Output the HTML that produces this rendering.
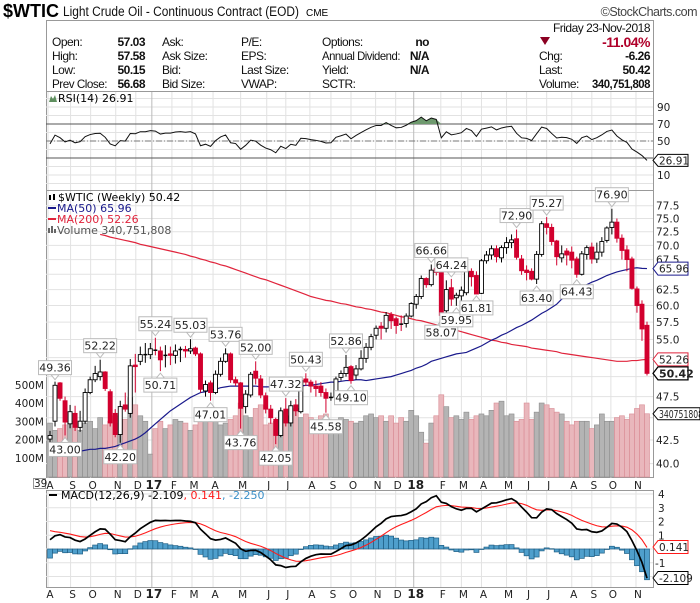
<!DOCTYPE html>
<html><head><meta charset="utf-8"><style>
body{margin:0;background:#fff;width:700px;height:603px;overflow:hidden}
svg{display:block;font-family:"Liberation Sans",sans-serif}
.hd{font-family:"Liberation Sans Narrow","Liberation Sans",sans-serif;font-size:12px;letter-spacing:-0.5px;fill:#111}
.hb{font-weight:bold}
.ax{font-family:"DejaVu Sans",sans-serif;font-size:10.5px;fill:#222}
.lg{font-family:"DejaVu Sans",sans-serif;font-size:11px}
</style></head><body>
<svg id="chart" width="700" height="603" viewBox="0 0 700 603">
<g>
<text x="3" y="17" textLength="56" lengthAdjust="spacingAndGlyphs" style="font-family:'Liberation Sans',sans-serif;font-size:18px;font-weight:bold">$WTIC</text>
<text x="63" y="16" textLength="236" lengthAdjust="spacingAndGlyphs" style="font-family:'Liberation Sans',sans-serif;font-size:13.5px;fill:#111">Light Crude Oil - Continuous Contract (EOD)</text>
<text x="306" y="16" style="font-size:10px">CME</text>
<text x="697" y="16" text-anchor="end" class="hd" style="font-size:12.5px;fill:#444">©StockCharts.com</text>
</g>
<g>
<rect x="46.5" y="20.5" width="607" height="71" fill="#fff" stroke="#999"/>
<text x="650" y="32" text-anchor="end" class="hd">Friday  23-Nov-2018</text>
<text x="52" y="46" class="hd">Open:</text><text x="145" y="46" text-anchor="end" class="hd hb">57.03</text>
<text x="52" y="60" class="hd">High:</text><text x="145" y="60" text-anchor="end" class="hd hb">57.58</text>
<text x="52" y="74" class="hd">Low:</text><text x="145" y="74" text-anchor="end" class="hd hb">50.15</text>
<text x="52" y="88" class="hd" textLength="55" lengthAdjust="spacingAndGlyphs">Prev Close:</text><text x="145" y="88" text-anchor="end" class="hd hb">56.68</text>
<text x="162" y="46" class="hd">Ask:</text>
<text x="162" y="60" class="hd">Ask Size:</text>
<text x="162" y="74" class="hd">Bid:</text>
<text x="162" y="88" class="hd">Bid Size:</text>
<text x="241" y="46" class="hd">P/E:</text>
<text x="241" y="60" class="hd">EPS:</text>
<text x="241" y="74" class="hd">Last Size:</text>
<text x="241" y="88" class="hd">VWAP:</text>
<text x="322" y="46" class="hd">Options:</text><text x="429" y="46" text-anchor="end" class="hd hb">no</text>
<text x="322" y="60" class="hd" textLength="78" lengthAdjust="spacingAndGlyphs">Annual Dividend:</text><text x="429" y="60" text-anchor="end" class="hd hb">N/A</text>
<text x="322" y="74" class="hd">Yield:</text><text x="429" y="74" text-anchor="end" class="hd hb">N/A</text>
<text x="322" y="88" class="hd">SCTR:</text>
<polygon points="540,37 550,37 545,45" fill="#8b0022"/>
<text x="650" y="47" text-anchor="end" class="hd hb" style="fill:#b0002a;font-size:14px">-11.04%</text>
<text x="539" y="60" class="hd">Chg:</text><text x="650" y="60" text-anchor="end" class="hd hb">-6.26</text>
<text x="539" y="74" class="hd">Last:</text><text x="650" y="74" text-anchor="end" class="hd hb">50.42</text>
<text x="539" y="88" class="hd">Volume:</text><text x="650" y="88" text-anchor="end" class="hd hb" textLength="58" lengthAdjust="spacingAndGlyphs">340,751,808</text>
</g>
<g id="rsi"></g>
<g id="main"></g>
<g id="macd"></g>
</svg>
<script>
// ---------- data (weekly, Aug 2016 - Nov 23 2018) ----------
const opens=[42.6,44.6,49.2,47.0,44.3,45.5,43.9,44.6,48.0,49.6,50.0,50.6,48.1,45.5,43.1,46.5,45.5,51.5,52.0,52.8,52.9,53.6,53.4,52.7,53.0,52.8,53.5,53.6,53.4,53.8,53.0,48.2,49.2,48.0,50.3,52.0,53.0,49.6,49.2,46.3,47.7,50.7,49.7,47.6,46.0,44.8,43.0,46.0,44.4,46.5,45.7,49.7,49.3,48.8,48.8,48.0,47.3,47.4,49.9,50.4,51.3,50.2,51.0,52.4,53.9,55.6,56.9,56.6,58.6,58.0,57.3,57.3,58.4,60.2,61.4,64.3,63.3,66.0,65.3,59.2,62.8,61.2,61.5,62.0,65.5,64.8,61.9,67.3,68.3,69.4,67.8,69.6,70.5,71.2,67.6,65.7,65.5,64.2,68.4,74.0,73.3,70.8,67.8,69.0,68.8,67.6,65.0,68.4,69.7,67.6,68.8,70.9,73.3,74.3,71.3,69.2,67.6,62.6,60.2,57.03];
const highs=[43.5,49.36,49.3,47.5,46.5,46.4,45.8,48.5,50.0,51.4,52.22,50.7,48.4,46.0,47.0,48.0,52.3,53.0,54.0,54.5,54.5,55.24,54.0,54.2,54.0,54.3,54.0,54.1,55.03,54.0,53.2,49.5,49.5,50.8,52.5,53.76,53.2,50.0,49.3,48.3,50.6,52.0,50.2,48.0,46.5,45.0,46.2,47.32,47.0,47.2,50.0,50.43,49.6,49.5,49.3,48.5,48.0,50.0,50.8,52.86,51.5,51.5,53.5,54.5,55.8,57.0,57.5,59.0,59.0,58.3,58.5,58.8,60.5,61.8,64.8,64.5,66.66,66.3,66.0,64.0,64.24,62.0,63.0,66.2,66.0,65.5,67.6,69.0,70.0,70.0,70.0,71.5,72.0,72.9,68.3,66.5,66.0,69.0,74.5,75.27,74.0,71.0,70.0,69.5,69.8,68.0,69.0,70.0,70.5,70.5,71.5,73.5,76.9,75.0,72.0,70.0,68.0,63.0,60.8,57.58];
const lows=[41.5,44.0,47.0,43.0,43.8,43.5,43.4,44.3,47.8,49.3,49.5,48.2,44.0,42.8,42.2,45.7,45.0,48.0,51.5,51.8,52.3,52.8,50.71,51.2,51.5,51.7,51.9,52.5,53.0,52.7,48.0,47.5,47.01,47.8,50.0,51.8,49.2,48.8,43.76,45.5,47.4,49.0,47.3,45.5,44.3,42.05,42.8,44.0,44.0,45.2,45.5,48.8,48.0,47.5,47.5,45.58,47.0,46.8,49.5,50.0,49.1,49.6,50.8,51.8,53.5,55.0,55.0,56.0,56.5,55.8,56.2,56.7,58.2,59.5,61.0,62.8,63.0,64.8,58.07,58.5,59.95,59.95,60.5,61.6,63.0,61.81,61.8,66.8,67.5,67.0,67.0,68.5,69.5,67.5,64.9,64.0,64.0,63.4,68.0,72.0,70.0,66.5,67.0,66.5,66.0,64.43,64.8,67.5,66.8,66.9,68.0,70.5,72.0,70.5,67.5,65.5,62.5,58.9,54.8,50.15];
const closes=[43.0,48.9,47.3,44.5,45.7,43.9,44.6,48.0,49.6,50.4,50.6,48.5,44.4,43.1,46.3,46.0,51.4,51.3,52.9,52.9,53.7,53.5,52.2,52.8,52.8,53.4,53.6,53.4,53.7,53.0,48.4,49.0,48.0,50.3,52.0,53.0,49.6,49.2,46.1,47.8,50.3,49.8,47.7,46.0,45.0,43.0,45.8,44.4,46.4,45.8,49.5,49.3,48.8,48.5,48.0,47.3,47.4,49.7,50.4,51.2,49.5,51.0,52.4,53.9,55.4,56.6,56.6,58.5,57.7,57.0,57.2,58.4,60.3,61.4,64.3,63.3,65.7,65.3,58.5,62.5,61.0,61.6,62.4,65.5,64.6,61.8,67.3,68.3,69.4,68.0,69.6,70.5,71.0,67.9,65.6,65.3,64.2,68.4,74.0,73.3,70.7,68.0,68.5,68.3,67.4,65.0,68.5,69.6,67.6,68.8,70.7,73.2,74.3,71.3,69.1,67.5,62.7,60.0,56.5,50.42];
const volumes=[290,250,260,280,300,270,250,290,300,260,320,280,300,330,290,310,430,390,330,300,120,260,300,260,280,310,300,290,250,280,330,320,300,300,280,290,310,330,400,330,320,370,390,280,290,300,350,290,330,370,320,340,320,300,330,340,300,300,320,310,300,290,300,330,340,320,330,300,330,290,320,300,360,330,240,180,290,330,445,380,320,330,310,350,310,330,340,330,360,400,410,330,340,300,310,400,310,350,400,390,370,350,340,300,280,300,300,300,260,280,340,300,300,320,330,310,340,370,390,341];
const ma50=[41.3,41.3,41.2,41.2,41.2,41.2,41.3,41.4,41.5,41.5,41.6,41.6,41.7,41.8,42.0,42.2,42.4,42.6,42.9,43.3,43.8,44.3,44.8,45.3,45.8,46.2,46.6,47.0,47.4,47.7,48.0,48.1,48.3,48.4,48.6,48.7,48.8,48.8,48.8,48.8,48.8,48.8,48.7,48.7,48.7,48.7,48.7,48.7,48.8,48.8,48.8,48.9,48.9,49.0,49.1,49.2,49.3,49.3,49.4,49.5,49.5,49.6,49.6,49.5,49.6,49.7,49.8,49.9,50.0,50.2,50.4,50.6,50.8,51.1,51.3,51.6,52.0,52.2,52.4,52.6,52.8,53.0,53.1,53.2,53.5,53.8,54.1,54.5,54.9,55.2,55.6,55.9,56.3,56.7,57.0,57.4,57.8,58.3,58.8,59.2,59.7,60.2,61.0,61.4,61.9,62.4,62.9,63.3,63.7,64.0,64.4,64.8,65.1,65.4,65.6,65.8,66.0,66.1,66.0,65.96];
const ma200=[null,null,null,null,null,null,null,null,null,null,72.0,71.8,71.5,71.3,71.1,70.9,70.7,70.5,70.2,70.0,69.8,69.6,69.4,69.2,69.0,68.8,68.6,68.4,68.1,67.9,67.6,67.4,67.1,66.9,66.6,66.4,66.1,65.8,65.5,65.2,64.9,64.6,64.3,64.1,63.8,63.5,63.2,62.9,62.6,62.3,62.0,61.7,61.4,61.2,61.0,60.8,60.7,60.5,60.3,60.2,60.0,59.8,59.7,59.5,59.4,59.2,59.0,58.9,58.7,58.5,58.3,58.2,58.0,57.8,57.7,57.5,57.3,57.1,56.9,56.7,56.5,56.3,56.1,55.9,55.7,55.5,55.3,55.1,54.9,54.8,54.6,54.5,54.3,54.2,54.1,54.0,53.8,53.7,53.6,53.5,53.4,53.3,53.1,53.0,52.9,52.8,52.7,52.6,52.5,52.4,52.3,52.2,52.1,52.0,52.0,52.0,52.1,52.1,52.2,52.26];
const highLabels=[[1,"49.36"],[10,"52.22"],[21,"55.24"],[28,"55.03"],[35,"53.76"],[41,"52.00"],[47,"47.32"],[51,"50.43"],[59,"52.86"],[76,"66.66"],[80,"64.24"],[93,"72.90"],[99,"75.27"],[112,"76.90"]];
const lowLabels=[[3,"43.00"],[14,"42.20"],[22,"50.71"],[32,"47.01"],[38,"43.76"],[45,"42.05"],[55,"45.58"],[60,"49.10"],[78,"58.07"],[81,"59.95"],[85,"61.81"],[97,"63.40"],[105,"64.43"]];
const priceTicks=[40,42.5,45,47.5,50,52.5,55,57.5,60,62.5,65,67.5,70,72.5,75,77.5];
const volTicks=[100,200,300,400,500];
const rsiTicks=[10,30,50,70,90];
const macdTicks=[-2,-1,1,2,3,4];
const monthLabels=["A","S","O","N","D","17","F","M","A","M","J","J","A","S","O","N","D","18","F","M","A","M","J","J","A","S","O","N"];
const monthWeek=[0,4.5,8.5,13.5,17.5,20.7,24.7,28.7,32.9,38.4,43.6,47.4,52.2,56.4,60.4,65.3,69.3,72.9,78.3,82.4,86.4,91.4,95.4,99.4,104.4,108.4,112.2,117.2];
const rsiSeed={prev:43.5,gain:0.95,loss:1.05};
const macdSeed={e12:45.0,e26:44.1,sig:1.5};

// ---------- helpers ----------
const NS="http://www.w3.org/2000/svg";
function mk(parent,tag,attrs){const e=document.createElementNS(NS,tag);for(const k in attrs)e.setAttribute(k,attrs[k]);parent.appendChild(e);return e;}
const X0=46,X1=653,N=closes.length;
const xW=i=>50+i*(597/(N-1));
const yP=p=>205.7+390*Math.log(77.5/p);
const yV=v=>476-v*0.1825;
const yR=r=>183.5-0.85*r;
const yM=m=>549-13.75*m;

// ---------- RSI ----------
const rsiG=document.getElementById('rsi');
mk(rsiG,'rect',{x:X0+.5,y:91.5,width:X1-X0,height:99,fill:'#fff',stroke:'#999'});
for(let r=0;r<=100;r+=10){const l=mk(rsiG,'line',{x1:X0,x2:X1,y1:yR(r),y2:yR(r),stroke:'#e2e2e2'});}
monthWeek.forEach((w,k)=>{const l=mk(rsiG,'line',{x1:xW(w)-2,x2:xW(w)-2,y1:92,y2:190,stroke:monthLabels[k].length>1?'#bbb':'#e2e2e2'});});
[30,70].forEach(r=>{const l=mk(rsiG,'line',{x1:X0,x2:X1,y1:yR(r),y2:yR(r),stroke:'#555'});});
{const l=mk(rsiG,'line',{x1:X0,x2:X1,y1:yR(50),y2:yR(50),stroke:'#777','stroke-dasharray':'6,2,1,2'});}
const rsi=[];{let ag=rsiSeed.gain,al=rsiSeed.loss,prev=rsiSeed.prev;closes.forEach(c=>{const ch=c-prev;prev=c;ag=(ag*13+Math.max(ch,0))/14;al=(al*13+Math.max(-ch,0))/14;rsi.push(100-100/(1+ag/al));});}
{const pts=[];for(let i=0;i<N;i++)pts.push([xW(i),yR(Math.max(rsi[i],70))]);
const a=mk(rsiG,'path',{d:'M'+xW(0)+','+yR(70)+'L'+pts.map(p=>p.join(',')).join('L')+'L'+xW(N-1)+','+yR(70)+'Z',fill:'#6e9a6e'});}
{const l=mk(rsiG,'polyline',{points:rsi.map((r,i)=>xW(i)+','+yR(r)).join(' '),fill:'none',stroke:'#111','stroke-width':1});}
rsiTicks.forEach(r=>{if(r===30)return;const t=mk(rsiG,'text',{x:657,y:yR(r)+4,class:'ax'});t.textContent=r;});
{const g=mk(rsiG,'g',{});const y=yR(rsi[N-1]);mk(g,'polygon',{points:`653,${y} 658,${y-6} 688,${y-6} 688,${y+6} 658,${y+6}`,fill:'#fff',stroke:'#000'});const t=mk(g,'text',{x:659,y:y+4,class:'ax'});t.textContent='26.91';}
{const g=mk(rsiG,'g',{});mk(g,'polygon',{points:'49,102 51,96 53,99 55,95 57,102',fill:'#5f8f5f'});const t=mk(g,'text',{x:58,y:102,class:'lg'});t.textContent='RSI(14) 26.91';}

// ---------- MAIN ----------
const mg=document.getElementById('main');
mk(mg,'rect',{x:X0+.5,y:190.5,width:X1-X0,height:287,fill:'#fff',stroke:'#999'});
priceTicks.forEach(p=>{const l=mk(mg,'line',{x1:X0,x2:X1,y1:yP(p),y2:yP(p),stroke:'#e2e2e2'});});
monthWeek.forEach((w,k)=>{const l=mk(mg,'line',{x1:xW(w)-2,x2:xW(w)-2,y1:191,y2:478,stroke:monthLabels[k].length>1?'#bbb':'#e2e2e2'});});
volumes.forEach((v,i)=>{const up=closes[i]>=opens[i];const r=mk(mg,'rect',{x:xW(i)-2.5,y:yV(v),width:5,height:476-yV(v)+1,fill:up?'#b4b4b4':'#e9b7bc',stroke:up?'#8c8c8c':'#d88a93','stroke-width':.6});});
{const l=mk(mg,'polyline',{points:ma200.map((m,i)=>m==null?null:xW(i)+','+yP(m)).filter(Boolean).join(' '),fill:'none',stroke:'#e0243c','stroke-width':1.2});}
{const l=mk(mg,'polyline',{points:ma50.map((m,i)=>xW(i)+','+yP(m)).join(' '),fill:'none',stroke:'#1a1a8c','stroke-width':1.2});}
for(let i=0;i<N;i++){const o=opens[i],c=closes[i],x=xW(i);const down=c<o;const doji=Math.abs(c-o)<0.15;const col=down?'#d2002e':'#000';
const g=mk(mg,'g',{});
mk(g,'line',{x1:x,x2:x,y1:yP(highs[i]),y2:yP(lows[i]),stroke:col,'stroke-width':1});
if(doji){mk(g,'line',{x1:x-2,x2:x+2,y1:yP(c),y2:yP(c),stroke:'#000','stroke-width':1.5});}
else{const yt=yP(Math.max(o,c)),yb=yP(Math.min(o,c));mk(g,'rect',{x:x-2,y:yt,width:4,height:Math.max(yb-yt,1),fill:down?'#d2002e':'#fff',stroke:down?'#d2002e':'#000','stroke-width':.9});}}
function tag(i,txt,isHigh){const x=xW(i);const g=mk(mg,'g',{});
const w=33,h=14;let by;if(isHigh){const ty=yP(highs[i])-2;by=ty-5-h;mk(g,'polygon',{points:`${x-4},${by+h} ${x},${ty} ${x+4},${by+h}`,fill:'#fff',stroke:'#bbb'});}else{const ty=yP(lows[i])+2;by=ty+5;mk(g,'polygon',{points:`${x-4},${by} ${x},${ty} ${x+4},${by}`,fill:'#fff',stroke:'#bbb'});}
mk(g,'rect',{x:x-w/2,y:by,width:w,height:h,fill:'#fff',stroke:'#bbb'});const t=mk(g,'text',{x:x,y:by+11,'text-anchor':'middle',class:'ax',style:'font-size:11px'});t.textContent=txt;}
highLabels.forEach(([i,t])=>tag(i,t,true));lowLabels.forEach(([i,t])=>tag(i,t,false));
priceTicks.forEach(p=>{if([65,52.5,50,45].includes(p))return;const t=mk(mg,'text',{x:656,y:yP(p)+4,class:'ax'});t.textContent=p.toFixed(1);});
volTicks.forEach(v=>{const t=mk(mg,'text',{x:44,y:yV(v)+4,'text-anchor':'end',class:'ax'});t.textContent=v+'M';});
function valTag(parent,y,txt,color,bold,name){const g=mk(parent,'g',{});mk(g,'polygon',{points:`653,${y} 658,${y-6.5} 688,${y-6.5} 688,${y+6.5} 658,${y+6.5}`,fill:'#fff',stroke:color,'stroke-width':bold?1.3:1});const t=mk(g,'text',{x:659,y:y+4,class:'ax',style:bold?'font-weight:bold;font-size:11px':''});t.textContent=txt;}
valTag(mg,yP(ma50[N-1]),'65.96','#1a1a8c',false,'ma50-value-tag');
valTag(mg,yP(ma200[N-1]),'52.26','#e0243c',false,'ma200-value-tag');
valTag(mg,yP(closes[N-1]),'50.42','#000',true,'last-price-tag');
{const y=yV(volumes[N-1]);const g=mk(mg,'g',{});mk(g,'polygon',{points:`653,${y} 658,${y-6} 700,${y-6} 700,${y+6} 658,${y+6}`,fill:'#fff',stroke:'#000'});const t=mk(g,'text',{x:659,y:y+4,class:'ax',textLength:'44',lengthAdjust:'spacingAndGlyphs'});t.textContent='340751808';}
{const g=mk(mg,'g',{});
mk(g,'rect',{x:49,y:195,width:2,height:5,fill:'#000'});mk(g,'rect',{x:53,y:194,width:2,height:6,fill:'#000'});
let t=mk(g,'text',{x:58,y:201,class:'lg'});t.textContent='$WTIC (Weekly) 50.42';
mk(g,'line',{x1:48,x2:56,y1:208,y2:208,stroke:'#1a1a8c','stroke-width':2});t=mk(g,'text',{x:57,y:212,class:'lg',fill:'#1a1a8c'});t.textContent='MA(50) 65.96';
mk(g,'line',{x1:48,x2:56,y1:219,y2:219,stroke:'#e0243c','stroke-width':2});t=mk(g,'text',{x:57,y:223,class:'lg',fill:'#e0243c'});t.textContent='MA(200) 52.26';
mk(g,'rect',{x:48,y:228,width:2,height:5,fill:'#666'});mk(g,'rect',{x:51,y:226,width:2,height:7,fill:'#666'});mk(g,'rect',{x:54,y:229,width:2,height:4,fill:'#666'});t=mk(g,'text',{x:57,y:234,class:'lg',fill:'#555'});t.textContent='Volume 340,751,808';}
function months(parent,y,name){monthLabels.forEach((m,k)=>{const t=mk(parent,'text',{x:xW(monthWeek[k]),y:y,'text-anchor':'middle',class:'ax',style:m.length>1?'font-weight:bold;font-size:12px':''});t.textContent=m;});}
months(mg,489,'month-label-top');
{const g=mk(mg,'g',{});mk(g,'rect',{x:33.5,y:478.5,width:12,height:10,fill:'#fff',stroke:'#999'});const t=mk(g,'text',{x:34,y:487,class:'ax'});t.textContent='39';}

// ---------- MACD ----------
const cg=document.getElementById('macd');
mk(cg,'rect',{x:X0+.5,y:490.5,width:X1-X0,height:97,fill:'#fff',stroke:'#999'});
for(let m=-2;m<=4;m++){const l=mk(cg,'line',{x1:X0,x2:X1,y1:yM(m),y2:yM(m),stroke:'#e2e2e2'});}
monthWeek.forEach((w,k)=>{const l=mk(cg,'line',{x1:xW(w)-2,x2:xW(w)-2,y1:491,y2:587,stroke:monthLabels[k].length>1?'#bbb':'#e2e2e2'});});
const macd=[],sig=[];{let e12=macdSeed.e12,e26=macdSeed.e26,s=macdSeed.sig;closes.forEach(c=>{e12=c*2/13+e12*11/13;e26=c*2/27+e26*25/27;const m=e12-e26;s=m*0.2+s*0.8;macd.push(m);sig.push(s);});}
for(let i=0;i<N;i++){const h=macd[i]-sig[i];const y0=yM(0),y1=yM(h);const r=mk(cg,'rect',{x:xW(i)-2.5,y:Math.min(y0,y1),width:5,height:Math.max(Math.abs(y1-y0),.5),fill:'#4f9fcc',stroke:'#1f5f85','stroke-width':.7});}
{const l=mk(cg,'polyline',{points:sig.map((m,i)=>xW(i)+','+yM(m)).join(' '),fill:'none',stroke:'#ff1a1a','stroke-width':1.1});}
{const l=mk(cg,'polyline',{points:macd.map((m,i)=>xW(i)+','+yM(m)).join(' '),fill:'none',stroke:'#000','stroke-width':1.7});}
macdTicks.forEach(m=>{if(m===-2)return;const t=mk(cg,'text',{x:m<0?655:658,y:yM(m)+4,class:'ax'});t.textContent=m;});
valTag(cg,yM(0.141),'0.141','#ff1a1a',false,'macd-signal-tag');
valTag(cg,yM(-2.109),'-2.109','#000',false,'macd-value-tag');
{const g=mk(cg,'g',{});mk(g,'line',{x1:49,x2:57,y1:495,y2:495,stroke:'#000','stroke-width':2});
const t=mk(g,'text',{x:61,y:499,class:'lg'});t.innerHTML='MACD(12,26,9) -2.109<tspan fill="#ff1a1a">, 0.141</tspan><tspan fill="#3a8fc8">, -2.250</tspan>';}
months(cg,598,'month-label-bottom');
</script>
</body></html>
